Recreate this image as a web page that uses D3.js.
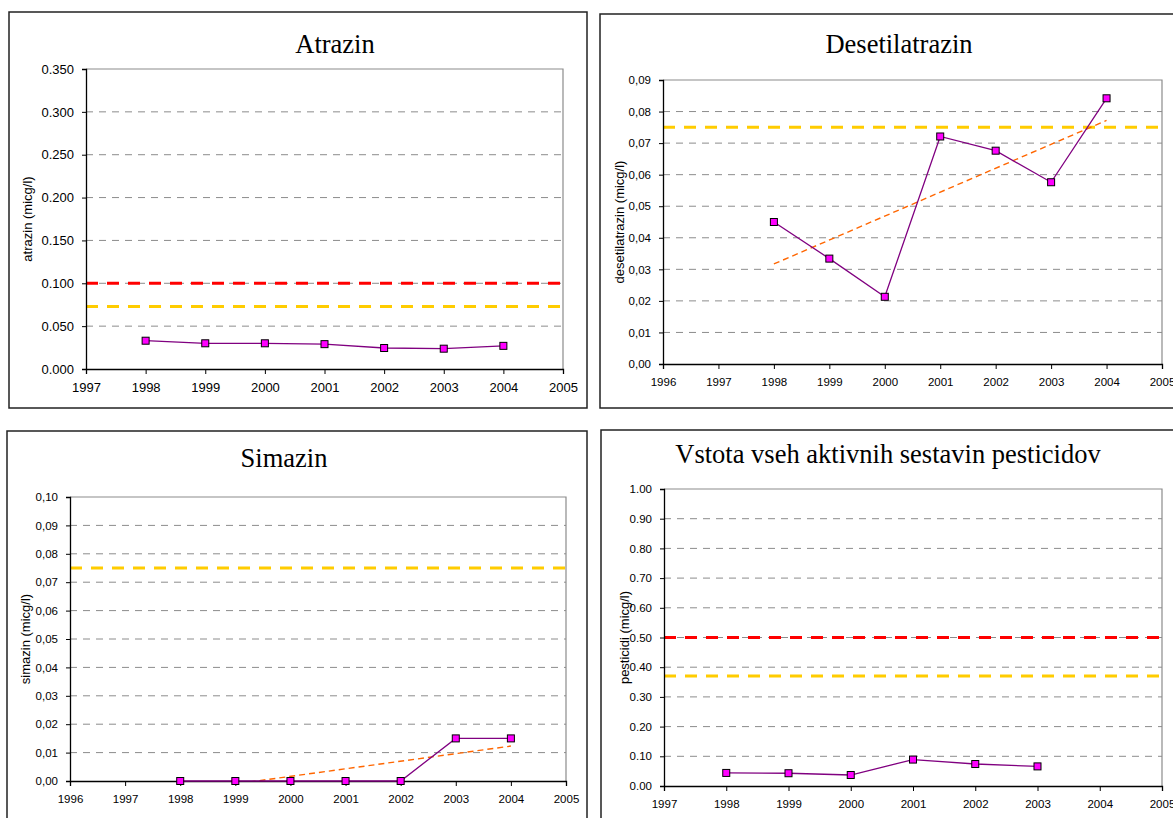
<!DOCTYPE html>
<html>
<head>
<meta charset="utf-8">
<script src="https://cdn.jsdelivr.net/npm/d3@7"></script>
<style>
  body { margin: 0; background: #fff; }
  svg { display: block; }
  .tick text { font-family: "Liberation Sans", Arial, sans-serif; fill: #000; }
</style>
</head>
<body>
<script>
// values
var years = [1998, 1999, 2000, 2001, 2002, 2003, 2004];
var pestYears = [1998, 1999, 2000, 2001, 2002, 2003];

var atrazin = [0.033, 0.030, 0.030, 0.029, 0.0245, 0.0237, 0.027];
var desetilatrazin = [0.045, 0.0334, 0.0213, 0.0721, 0.0676, 0.0576, 0.0842];
var simazin = [0, 0, 0, 0, 0, 0.015, 0.015];
var pesticidi = [0.044, 0.043, 0.037, 0.089, 0.074, 0.066];

// limit lines (red = MDK, yellow = 75 %)
var atrazinLimits = [0.100, 0.073];
var desLimits = [null, 0.075];
var simLimits = [null, 0.075];
var pestLimits = [0.50, 0.37];

// linear trend ends (1998 / 2004)
var trendYears = [1998, 2004];
var desTrend = [0.0317, 0.0772];
var simTrend = [-0.0037, 0.0123];

var atrazinTicks = [0, 0.05, 0.10, 0.15, 0.20, 0.25, 0.30, 0.35];
var desTicks = [0, 0.01, 0.02, 0.03, 0.04, 0.05, 0.06, 0.07, 0.08, 0.09];
var simTicks = [0, 0.01, 0.02, 0.03, 0.04, 0.05, 0.06, 0.07, 0.08, 0.09, 0.10];
var pestTicks = [0, 0.1, 0.2, 0.3, 0.4, 0.5, 0.6, 0.7, 0.8, 0.9, 1.0];

var W = 1173, H = 818;
var svg = d3.select("body").append("svg")
  .attr("width", W)
  .attr("height", H);

var comma = function(f) {
  return function(d) { return f(d).replace(".", ","); };
};

var panels = [
  { id: "p1", title: "Atrazin", titleX: 335, titleY: 53, yLabel: "atrazin (micg/l)", labelX: 32,
    box: [9, 12, 578, 396], plot: [86, 69, 563, 369], xDomain: [1997, 2005], tickFont: 13,
    yMax: 0.35, yTicks: atrazinTicks, fmt: d3.format(".3f"),
    x: years, y: atrazin, limits: atrazinLimits, trend: null },
  { id: "p2", title: "Desetilatrazin", titleX: 899, titleY: 53, yLabel: "desetilatrazin (micg/l)", labelX: 624,
    box: [600, 14, 600, 394], plot: [663, 80, 1162, 364], xDomain: [1996, 2005], tickFont: 11.5,
    yMax: 0.09, yTicks: desTicks, fmt: comma(d3.format(".2f")),
    x: years, y: desetilatrazin, limits: desLimits, trend: desTrend },
  { id: "p3", title: "Simazin", titleX: 284, titleY: 467, yLabel: "simazin (micg/l)", labelX: 30,
    box: [7, 431, 580, 400], plot: [70, 497, 566, 781], xDomain: [1996, 2005], tickFont: 11.5,
    yMax: 0.10, yTicks: simTicks, fmt: comma(d3.format(".2f")),
    x: years, y: simazin, limits: simLimits, trend: simTrend },
  { id: "p4", title: "Vstota vseh aktivnih sestavin pesticidov", titleX: 888, titleY: 463, yLabel: "pesticidi (micg/l)", labelX: 629,
    box: [601, 430, 600, 400], plot: [664, 489, 1162, 786], xDomain: [1997, 2005], tickFont: 11.5,
    yMax: 1.0, yTicks: pestTicks, fmt: d3.format(".2f"),
    x: pestYears, y: pesticidi, limits: pestLimits, trend: null }
];

panels.forEach(drawPanel);

function drawPanel(p) {
  var g = svg.append("g").attr("class", p.id);
  var left = p.plot[0], top = p.plot[1], right = p.plot[2], bottom = p.plot[3];

  var xScale = d3.scaleLinear().domain(p.xDomain).range([left, right]);
  var yScale = d3.scaleLinear().domain([0, p.yMax]).range([bottom, top]);

  // frame round the chart
  g.append("rect")
    .attr("x", p.box[0]).attr("y", p.box[1])
    .attr("width", p.box[2]).attr("height", p.box[3])
    .attr("fill", "#fff")
    .attr("stroke", "#222")
    .attr("stroke-width", 1.5);

  g.append("text")
    .attr("x", p.titleX).attr("y", p.titleY)
    .attr("text-anchor", "middle")
    .style("font-family", "'Liberation Serif', 'Times New Roman', serif")
    .style("font-size", "26.5px")
    .text(p.title);

  // grid
  g.append("g")
    .selectAll("line")
    .data(p.yTicks.filter(function(d) { return d > 0 && d < p.yMax - 1e-9; }))
    .enter().append("line")
      .attr("x1", left).attr("x2", right)
      .attr("y1", function(d) { return yScale(d); })
      .attr("y2", function(d) { return yScale(d); })
      .attr("stroke", "#8c8c8c")
      .attr("stroke-dasharray", "7,6");

  // plot area border top / right
  g.append("path")
    .attr("d", "M" + left + "," + top + "H" + right + "V" + bottom)
    .attr("fill", "none")
    .attr("stroke", "#8c8c8c")
    .attr("stroke-width", 1.2);

  // limit lines
  var limitColors = ["#ff0000", "#ffcc00"];
  p.limits.forEach(function(v, i) {
    if (v === null) return;
    g.append("line")
      .attr("x1", left).attr("x2", right)
      .attr("y1", yScale(v)).attr("y2", yScale(v))
      .attr("stroke", limitColors[i])
      .attr("stroke-width", 3)
      .attr("stroke-dasharray", "12,9");
  });

  // trend line
  if (p.trend) {
    var clipId = "clip-" + p.id;
    g.append("clipPath").attr("id", clipId)
      .append("rect")
        .attr("x", left).attr("y", top)
        .attr("width", right - left).attr("height", bottom - top);
    g.append("path")
      .datum(trendYears.map(function(t, i) { return [t, p.trend[i]]; }))
      .attr("clip-path", "url(#" + clipId + ")")
      .attr("fill", "none")
      .attr("stroke", "#ff6600")
      .attr("stroke-width", 1.4)
      .attr("stroke-dasharray", "6,4")
      .attr("d", d3.line()
        .x(function(d) { return xScale(d[0]); })
        .y(function(d) { return yScale(d[1]); }));
  }

  // axes
  var xAxis = g.append("g")
    .attr("transform", "translate(0," + bottom + ")")
    .call(d3.axisBottom(xScale)
      .tickValues(d3.range(p.xDomain[0], p.xDomain[1] + 1))
      .tickFormat(d3.format("d"))
      .tickSizeOuter(0)
      .tickSize(5)
      .tickPadding(9));

  var yAxis = g.append("g")
    .attr("transform", "translate(" + left + ",0)")
    .call(d3.axisLeft(yScale)
      .tickValues(p.yTicks)
      .tickFormat(p.fmt)
      .tickSizeOuter(0)
      .tickSize(4)
      .tickPadding(8));

  [xAxis, yAxis].forEach(function(a) {
    a.select(".domain").attr("stroke", "#000").attr("stroke-width", 1.3);
    a.selectAll(".tick line").attr("stroke", "#000");
    a.selectAll(".tick text").style("font-size", p.tickFont + "px");
  });

  g.append("text")
    .attr("transform", "translate(" + p.labelX + "," + ((top + bottom) / 2) + ")rotate(-90)")
    .attr("text-anchor", "middle")
    .style("font-family", "'Liberation Sans', Arial, sans-serif")
    .style("font-size", "13px")
    .text(p.yLabel);

  // series
  var pts = p.x.map(function(t, i) { return [t, p.y[i]]; });
  g.append("path")
    .datum(pts)
    .attr("fill", "none")
    .attr("stroke", "#800080")
    .attr("stroke-width", 1.3)
    .attr("d", d3.line()
      .x(function(d) { return xScale(d[0]); })
      .y(function(d) { return yScale(d[1]); }));

  g.append("g")
    .selectAll("rect")
    .data(pts)
    .enter().append("rect")
      .attr("x", function(d) { return xScale(d[0]) - 3.5; })
      .attr("y", function(d) { return yScale(d[1]) - 3.5; })
      .attr("width", 7).attr("height", 7)
      .attr("fill", "#ff00ff")
      .attr("stroke", "#000")
      .attr("stroke-width", 1);
}
</script>
</body>
</html>
